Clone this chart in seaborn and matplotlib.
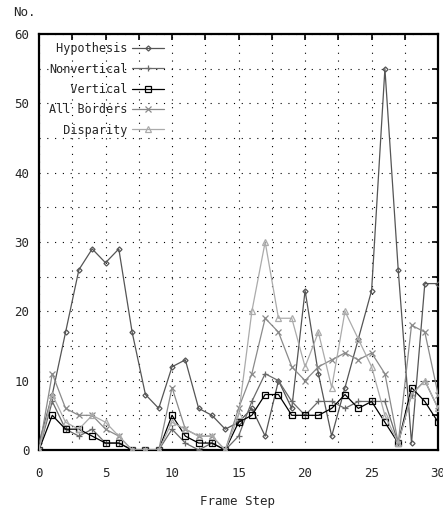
import matplotlib
matplotlib.use("Agg")
import matplotlib.pyplot as plt
from matplotlib.ticker import MultipleLocator
import seaborn as sns
import pandas as pd

frame_step = list(range(31))
hypothesis = [1, 8, 17, 26, 29, 27, 29, 17, 8, 6, 12, 13, 6, 5, 3, 4, 6, 2, 10, 6,
              23, 11, 2, 9, 16, 23, 55, 26, 1, 24, 24]
nonvertical = [0, 7, 3, 2, 3, 1, 1, 0, 0, 0, 3, 1, 0, 1, 0, 2, 7, 11, 10, 7,
               5, 7, 7, 6, 7, 7, 7, 1, 8, 10, 6]
vertical = [0, 5, 3, 3, 2, 1, 1, 0, 0, 0, 5, 2, 1, 1, 0, 4, 5, 8, 8, 5,
            5, 5, 6, 8, 6, 7, 4, 1, 9, 7, 4]
all_borders = [0, 11, 6, 5, 5, 3, 2, 0, 0, 0, 9, 3, 2, 2, 0, 6, 11, 19, 17, 12,
               10, 12, 13, 14, 13, 14, 11, 1, 18, 17, 8]
disparity = [0, 8, 4, 3, 5, 4, 2, 0, 0, 0, 4, 3, 2, 2, 0, 5, 20, 30, 19, 19,
             12, 17, 9, 20, 16, 12, 5, 1, 8, 10, 6]

series_names = ["Hypothesis", "Nonvertical", "Vertical", "All Borders", "Disparity"]
series_values = [hypothesis, nonvertical, vertical, all_borders, disparity]
colors = ["#555555", "#6a6a6a", "#000000", "#8a8a8a", "#ababab"]
markers = ["D", "+", "s", "x", "^"]
msizes = [2.6, 5, 4, 4, 5]

sns.set_style("white")
plt.rcParams["font.family"] = ["DejaVu Sans Mono", "DejaVu Sans"]

fig = plt.figure(figsize=(4.43, 5.11), dpi=100)
ax = fig.add_axes([0.088, 0.1194, 0.901, 0.8141])

for name, vals, c, m, ms in zip(series_names, series_values, colors, markers, msizes):
    df = pd.DataFrame({"x": frame_step, "y": vals})
    filled = m in ("+", "x")
    sns.lineplot(data=df, x="x", y="y", ax=ax, color=c, lw=0.9,
                 marker=m, markersize=ms,
                 markerfacecolor=(c if filled else "none"),
                 markeredgecolor=c, markeredgewidth=0.9,
                 label=name.rjust(11), zorder=3)

ax.set_xlim(0, 30)
ax.set_ylim(0, 60)
ax.xaxis.set_major_locator(MultipleLocator(5))
ax.xaxis.set_minor_locator(MultipleLocator(2.5))
ax.yaxis.set_major_locator(MultipleLocator(10))
ax.yaxis.set_minor_locator(MultipleLocator(5))
ax.grid(True, which="both", color="black", linestyle=(0, (1, 6)), linewidth=0.8, zorder=0)
ax.tick_params(which="both", direction="in", top=True, right=True, length=4,
               width=1.2, color="black", labelsize=9)
ax.tick_params(axis="x", pad=12)
ax.tick_params(axis="y", pad=7)
for sp in ax.spines.values():
    sp.set_visible(True)
    sp.set_color("black")
    sp.set_linewidth(1.6)

ax.set_xlabel("")
ax.set_ylabel("")
fig.text(0.030, 0.975, "No.", fontsize=9, ha="left", va="center")
fig.text(0.537, 0.018, "Frame Step", fontsize=9, ha="center", va="center")

handles, labels = ax.get_legend_handles_labels()
leg = ax.legend(handles, labels, loc="upper left", bbox_to_anchor=(0.005, 1.0),
                frameon=False, markerfirst=False, handlelength=2.7,
                handletextpad=0.4, labelspacing=0.62, fontsize=8.5,
                borderaxespad=0.3)

fig.savefig("out.png", dpi=100)
